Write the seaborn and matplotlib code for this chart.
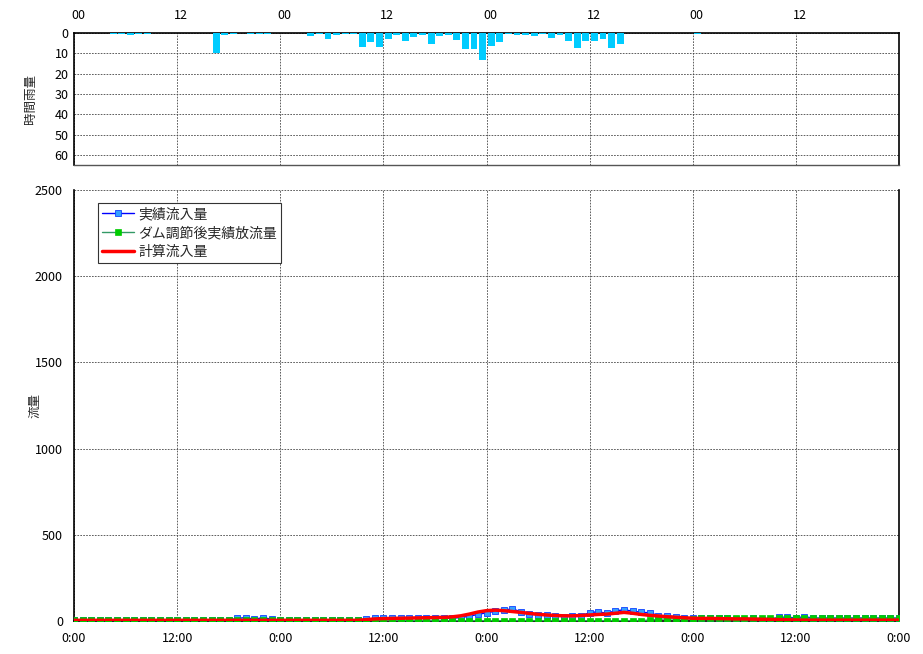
import numpy as np
import pandas as pd
import matplotlib
matplotlib.use("Agg")
import matplotlib.pyplot as plt
import matplotlib.transforms as mtransforms
import seaborn as sns

# ---------------- data ----------------
rain_hours = list(range(96))
rain = [0, 0, 0, 0, 0.5, 0.5, 1, 0.5, 0.5, 0, 0, 0, 0, 0, 0, 0,
        10, 1, 0.5, 0, 0.5, 0.5, 0.5, 0, 0, 0, 0, 1.3, 0.5, 3, 1, 0.5,
        0.5, 7, 4.5, 7, 3, 1, 4, 2, 1, 5.5, 1.5, 1, 3.5, 8, 8, 13.5,
        6.5, 4.5, 0.5, 1, 1, 1.3, 0.5, 2.5, 1, 4, 7.5, 4, 4, 3, 7.5, 5.5,
        0, 0, 0, 0, 0, 0, 0, 0, 0.5, 0, 0, 0, 0, 0, 0, 0,
        0, 0, 0, 0, 0, 0, 0, 0, 0, 0, 0, 0, 0, 0, 0, 0]

flow_hours = list(range(97))
inflow_obs = [5, 5, 5, 5, 5, 5, 5, 5, 5, 5, 5, 5, 5, 5, 5, 5,
              5, 6, 6, 15, 20, 10, 20, 10, 6, 6, 6, 6, 6, 6, 6, 6,
              6, 6, 10, 15, 15, 15, 15, 15, 15, 15, 15, 15, 16, 20, 28, 38,
              48, 56, 64, 70, 54, 40, 35, 35, 31, 25, 31, 31, 48, 54, 44, 60,
              64, 58, 50, 48, 31, 29, 25, 19, 15, 15, 15, 15, 15, 14, 8, 15,
              8, 8, 22, 22, 18, 25, 17, 17, 17, 17, 17, 17, 17, 17, 17, 17, 17]
outflow_dam = [4, 4, 4, 4, 4, 4, 4, 4, 4, 4, 4, 4, 4, 4, 4, 4,
               4, 4, 4, 4, 4, 4, 4, 4, 4, 4, 4, 4, 4, 4, 4, 4,
               4, 4, 2, 2, 2, 2, 2, 2, 2, 2, 2, 2, 2, 2, 2, 2,
               2, 2, 2, 2, 2, 2, 2, 2, 2, 2, 2, 2, 2, 2, 2, 2,
               2, 2, 2, 6, 10, 12, 12, 12, 12, 16, 16, 16, 16, 16, 16, 16,
               16, 16, 16, 16, 16, 16, 16, 16, 16, 16, 16, 16, 16, 16, 16, 16, 16]
inflow_calc = [4, 4, 4, 4, 4, 4, 4, 4, 4, 4, 4, 4, 4, 4, 4, 4,
               4, 4, 4, 4, 4, 4, 4, 4, 4, 4, 4, 4, 4, 4, 4, 4,
               4, 4, 8, 12, 14, 15, 16, 17, 18, 19, 20, 21, 24, 30, 40, 52,
               60, 63, 60, 55, 50, 44, 39, 35, 32, 30, 30, 32, 35, 38, 40, 45,
               50, 45, 38, 33, 29, 25, 22, 19, 16, 15, 15, 14, 13, 12, 12, 11,
               10, 9, 8, 7, 6, 5, 5, 5, 5, 5, 5, 5, 5, 5, 5, 5, 5]

top_ticks = [0, 12, 24, 36, 48, 60, 72, 84]
top_labels = ["00", "12", "00", "12", "00", "12", "00", "12"]
bottom_ticks = [0, 12, 24, 36, 48, 60, 72, 84, 96]
bottom_labels = ["0:00", "12:00", "0:00", "12:00", "0:00", "12:00", "0:00", "12:00", "0:00"]
rain_yticks = [0, 10, 20, 30, 40, 50, 60]
flow_yticks = [0, 500, 1000, 1500, 2000, 2500]

series_names = ["実績流入量", "ダム調節後実績放流量", "計算流入量"]

# ---------------- style ----------------
sns.set_theme(style="white")
plt.rcParams['font.family'] = ['Noto Sans CJK JP', 'DejaVu Sans']
plt.rcParams['axes.unicode_minus'] = False

fig = plt.figure(figsize=(9.23, 6.54), dpi=100)
W, H = 923, 654
ax_top = fig.add_axes([74 / W, 1 - 165 / H, 825 / W, 132 / H])
ax = fig.add_axes([74 / W, 1 - 621 / H, 825 / W, 431 / H])

grid_kw = dict(color="#444444", linewidth=0.6, linestyle=(0, (2, 1.5)))

# ---------------- rain panel ----------------
rain_df = pd.DataFrame({"hour": [h + 0.55 for h in rain_hours], "rain": rain})
sns.barplot(data=rain_df, x="hour", y="rain", native_scale=True, color="#00CCFF",
            saturation=1, width=0.8, errorbar=None, ax=ax_top, zorder=3, linewidth=0)
ax_top.set_xlim(0, 96)
ax_top.set_ylim(65, 0)
ax_top.set_yticks(rain_yticks)
ax_top.set_xticks(top_ticks)
ax_top.set_xticklabels(top_labels)
ax_top.xaxis.tick_top()
ax_top.tick_params(axis="both", length=0, labelsize=9, colors="black", pad=4)
ax_top.tick_params(axis="x", pad=8)
off = mtransforms.ScaledTranslation(4 / 100, 0, fig.dpi_scale_trans)
for lbl in ax_top.get_xticklabels():
    lbl.set_transform(lbl.get_transform() + off)
ax_top.grid(True, **grid_kw)
ax_top.set_axisbelow(True)
ax_top.set_xlabel("")
ax_top.set_ylabel("時間雨量", fontsize=9)
ax_top.yaxis.set_label_coords(-(74 - 37) / 825, 0.5)
for s in ["top", "left", "right"]:
    ax_top.spines[s].set_color("black")
    ax_top.spines[s].set_linewidth(1.2)
ax_top.spines["bottom"].set_color("#555555")
ax_top.spines["bottom"].set_linewidth(1.0)

# ---------------- flow panel ----------------
flow_df = pd.DataFrame({"hour": flow_hours, "obs": inflow_obs,
                        "dam": outflow_dam, "calc": inflow_calc})
sns.lineplot(data=flow_df, x="hour", y="obs", ax=ax, color="#0000FF", linewidth=1.0,
             marker="s", markersize=5, markerfacecolor="#33A0FF", markeredgecolor="#1040FF",
             markeredgewidth=0.6, label=series_names[0], zorder=3)
sns.lineplot(data=flow_df, x="hour", y="dam", ax=ax, color="#339966", linewidth=1.0,
             marker="s", markersize=4, markerfacecolor="#00CC00", markeredgecolor="#00CC00",
             markeredgewidth=0.5, label=series_names[1], zorder=4)
sns.lineplot(data=flow_df, x="hour", y="calc", ax=ax, color="#FF0000", linewidth=2.5,
             label=series_names[2], zorder=5)
ax.set_xlim(0, 96)
ax.set_ylim(0, 2500)
ax.set_xticks(bottom_ticks)
ax.set_xticklabels(bottom_labels)
ax.set_yticks(flow_yticks)
ax.tick_params(axis="both", length=0, labelsize=9, colors="black")
ax.tick_params(axis="x", pad=8)
ax.tick_params(axis="y", pad=8)
ax.grid(True, **grid_kw)
ax.set_axisbelow(True)
ax.set_xlabel("")
ax.set_ylabel("流量", fontsize=9)
ax.yaxis.set_label_coords(-(74 - 41) / 825, 0.5)
ax.spines["top"].set_visible(False)
for s in ["left", "right", "bottom"]:
    ax.spines[s].set_color("black")
    ax.spines[s].set_linewidth(1.2)

leg = ax.legend(loc="upper left", bbox_to_anchor=((98 - 74) / 825, (621 - 203) / 431),
                fontsize=10, frameon=True, fancybox=False, framealpha=1,
                edgecolor="#333333", handlelength=2.3, borderpad=0.3,
                labelspacing=0.35, handletextpad=0.3, borderaxespad=0)
leg.get_frame().set_linewidth(0.8)

fig.savefig("out.png", dpi=100)
